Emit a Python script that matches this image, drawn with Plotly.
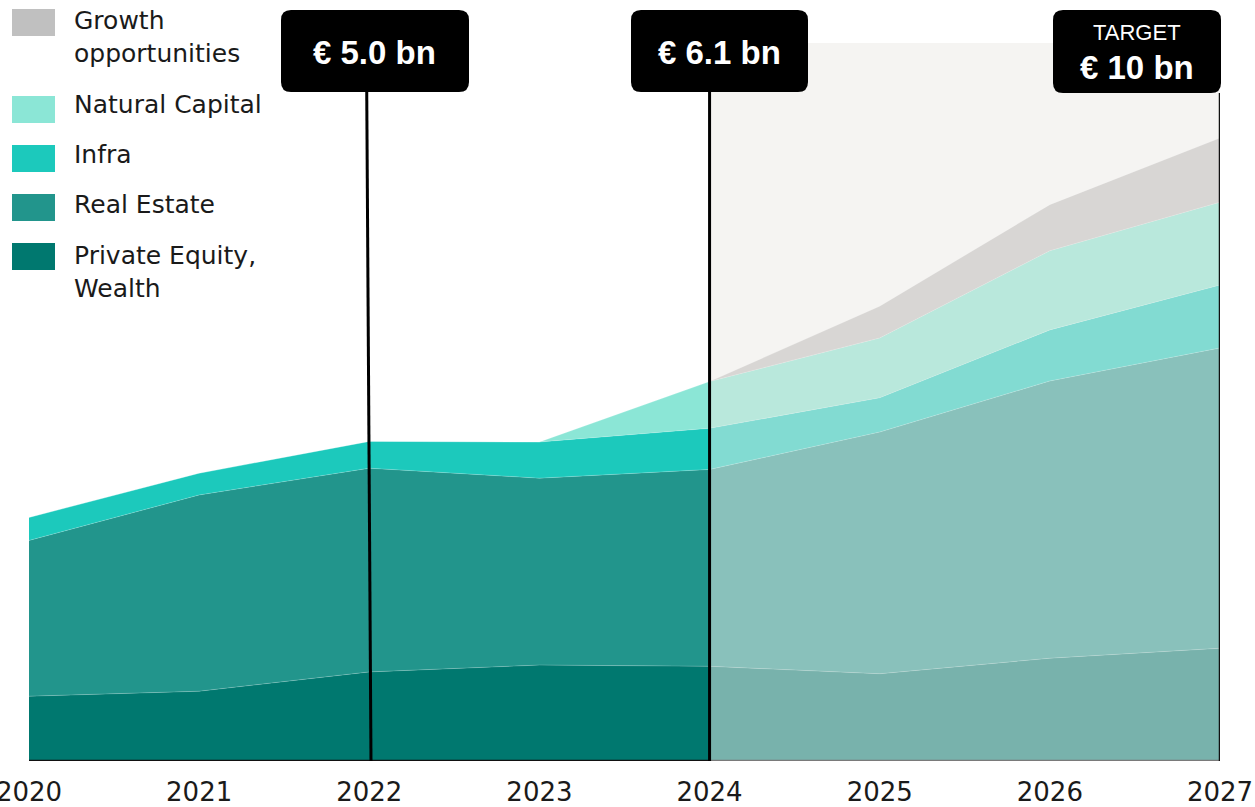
import plotly.graph_objects as go

# ---------------- data (EUR bn) ----------------
years_actual = [2020, 2021, 2022, 2023, 2024]
years_fc = [2024, 2025, 2026, 2027]

pe_actual = [1.04, 1.12, 1.43, 1.54, 1.52]
re_actual = [2.50, 3.15, 3.27, 3.00, 3.16]
infra_actual = [0.37, 0.35, 0.43, 0.58, 0.66]
nc_actual = [0.0, 0.0, 0.0, 0.0, 0.75]

pe_fc = [1.52, 1.40, 1.65, 1.81]
re_fc = [3.16, 3.88, 4.45, 4.82]
infra_fc = [0.66, 0.55, 0.82, 1.01]
nc_fc = [0.75, 0.96, 1.27, 1.33]
growth_fc = [0.0, 0.51, 0.74, 1.03]

tick_years = [2020, 2021, 2022, 2023, 2024, 2025, 2026, 2027]

legend_labels = ["Growth<br>opportunities", "Natural Capital", "Infra", "Real Estate",
                 "Private Equity,<br>Wealth"]
legend_colors = ["#C0C0C0", "#8BE6D6", "#1CC9BC", "#22958C", "#00786F"]

box_years = [2022, 2024, 2027]
box_texts = ["€ 5.0 bn", "€ 6.1 bn", "€ 10 bn"]

# ---------------- layout geometry ----------------
W, H = 1255, 807
L, R, T, B = 29, 35, 0, 46
PW, PH = W - L - R, H - T - B
PX_PER_BN = 62.3
YMAX = PH / PX_PER_BN


def px(xp):
    return (xp - L) / PW


def py(yp):
    return (H - B - yp) / PH


def rounded_rect(x0, y0, x1, y1, r):
    # pixel coordinates -> paper path
    pts = [
        f"M {px(x0 + r)} {py(y0)}",
        f"L {px(x1 - r)} {py(y0)}",
        f"Q {px(x1)} {py(y0)} {px(x1)} {py(y0 + r)}",
        f"L {px(x1)} {py(y1 - r)}",
        f"Q {px(x1)} {py(y1)} {px(x1 - r)} {py(y1)}",
        f"L {px(x0 + r)} {py(y1)}",
        f"Q {px(x0)} {py(y1)} {px(x0)} {py(y1 - r)}",
        f"L {px(x0)} {py(y0 + r)}",
        f"Q {px(x0)} {py(y0)} {px(x0 + r)} {py(y0)}",
        "Z",
    ]
    return " ".join(pts)


fig = go.Figure()

actual = [
    ("Private Equity, Wealth", pe_actual, "#00786F"),
    ("Real Estate", re_actual, "#22958C"),
    ("Infra", infra_actual, "#1CC9BC"),
    ("Natural Capital", nc_actual, "#8BE6D6"),
]
for name, vals, col in actual:
    fig.add_trace(go.Scatter(x=years_actual, y=vals, name=name, stackgroup="actual",
                             mode="lines", line=dict(width=0.6, color="rgba(255,255,255,0.3)"),
                             fillcolor=col, showlegend=False, hoverinfo="skip"))

forecast = [
    ("Private Equity, Wealth", pe_fc, "#78B2AC"),
    ("Real Estate", re_fc, "#89C1BB"),
    ("Infra", infra_fc, "#82DBD2"),
    ("Natural Capital", nc_fc, "#B9E8DC"),
    ("Growth opportunities", growth_fc, "#D8D6D4"),
]
for name, vals, col in forecast:
    fig.add_trace(go.Scatter(x=years_fc, y=vals, name=name, stackgroup="forecast",
                             mode="lines", line=dict(width=0.6, color="rgba(255,255,255,0.3)"),
                             fillcolor=col, showlegend=False, hoverinfo="skip"))

shapes = []
# forecast background panel
shapes.append(dict(type="rect", xref="x", yref="paper", x0=2024, x1=2027,
                   y0=0, y1=py(43), fillcolor="#F5F4F2", line=dict(width=0), layer="below"))
# baseline
shapes.append(dict(type="line", xref="x", yref="y", x0=2020, x1=2024, y0=0, y1=0,
                   line=dict(color="#111111", width=2.5)))
shapes.append(dict(type="line", xref="x", yref="y", x0=2024, x1=2027, y0=0, y1=0,
                   line=dict(color="#7A7A7A", width=2.5)))
# vertical marker lines
shapes.append(dict(type="line", xref="x", yref="paper", x0=2022.01, x1=2021.985,
                   y0=0, y1=py(92), line=dict(color="#000000", width=3)))
shapes.append(dict(type="line", xref="x", yref="paper", x0=2024, x1=2024,
                   y0=0, y1=py(92), line=dict(color="#000000", width=3)))
shapes.append(dict(type="line", xref="x", yref="paper", x0=2027, x1=2027,
                   y0=0, y1=py(93), line=dict(color="#111111", width=2.5)))
# label boxes
boxes_px = [(281, 10, 469, 92), (631, 10, 808, 92), (1053, 10, 1221, 93)]
for (x0, y0, x1, y1) in boxes_px:
    shapes.append(dict(type="path", xref="paper", yref="paper",
                       path=rounded_rect(x0, y0, x1, y1, 10),
                       fillcolor="#000000", line=dict(width=0)))
# legend swatches
legend_sw_y = [(9, 36), (96, 123), (145, 172), (194, 221), (243, 270)]
for (y0, y1), col in zip(legend_sw_y, legend_colors):
    shapes.append(dict(type="rect", xref="paper", yref="paper", x0=px(12), x1=px(55),
                       y0=py(y1), y1=py(y0), fillcolor=col, line=dict(width=0)))

annotations = []
legend_text_y = [37, 105, 155, 204, 272]
for lab, yc in zip(legend_labels, legend_text_y):
    annotations.append(dict(xref="paper", yref="paper", x=px(72), y=py(yc), text=lab,
                            showarrow=False, xanchor="left", yanchor="middle", align="left",
                            font=dict(family="DejaVu Sans", size=25, color="#1A1A1A")))

box_centers = [(375, 52), (719.5, 52), (1137, 67)]
for txt, (cx, cy) in zip(box_texts, box_centers):
    annotations.append(dict(xref="paper", yref="paper", x=px(cx), y=py(cy),
                            text=f"<b>{txt}</b>", showarrow=False,
                            xanchor="center", yanchor="middle",
                            font=dict(family="Liberation Sans", size=33, color="#FFFFFF")))
annotations.append(dict(xref="paper", yref="paper", x=px(1137), y=py(33), text="TARGET",
                        showarrow=False, xanchor="center", yanchor="middle",
                        font=dict(family="Liberation Sans", size=22, color="#FFFFFF")))

fig.update_layout(
    width=W, height=H,
    margin=dict(l=L, r=R, t=T, b=B, autoexpand=False),
    paper_bgcolor="#FFFFFF", plot_bgcolor="rgba(0,0,0,0)",
    showlegend=False,
    shapes=shapes, annotations=annotations,
    xaxis=dict(range=[2020, 2027], tickvals=tick_years, ticktext=[str(y) for y in tick_years],
               showgrid=False, zeroline=False, showline=False, automargin=False,
               ticks="outside", ticklen=8, tickcolor="rgba(0,0,0,0)",
               ticklabeloverflow="allow",
               tickfont=dict(family="DejaVu Sans", size=26, color="#1A1A1A")),
    yaxis=dict(range=[0, YMAX], visible=False, showgrid=False, zeroline=False,
               automargin=False),
)

fig.write_html("out.html", config={"displayModeBar": False},
               post_script="document.body.style.margin='0';document.body.style.overflow='hidden';")
